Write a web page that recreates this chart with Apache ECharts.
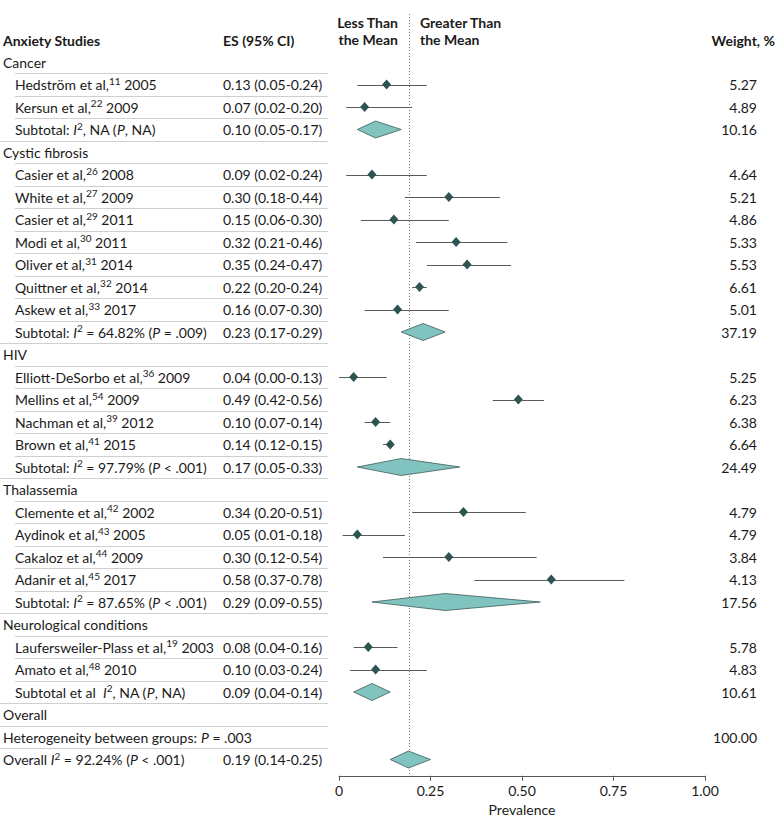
<!DOCTYPE html>
<html><head><meta charset="utf-8">
<script src="https://cdn.jsdelivr.net/npm/echarts@6/dist/echarts.min.js"></script>
<style>html,body{margin:0;padding:0;background:#fff}#c{width:780px;height:834px}</style>
</head><body><div id="c"></div>
<script>
// ---- data ----
const rowTypes = ['cat','study','study','sub','cat','study','study','study','study','study','study','study','sub',
  'cat','study','study','study','study','sub','cat','study','study','study','study','sub',
  'cat','study','study','sub','cat','cat','overall'];
const rowLabels = [
  'Cancer',
  'Hedström et al,{s|11} 2005',
  'Kersun et al,{s|22} 2009',
  'Subtotal: {i|I}{s|2}, NA ({i|P}, NA)',
  'Cystic fibrosis',
  'Casier et al,{s|26} 2008',
  'White et al,{s|27} 2009',
  'Casier et al,{s|29} 2011',
  'Modi et al,{s|30} 2011',
  'Oliver et al,{s|31} 2014',
  'Quittner et al,{s|32} 2014',
  'Askew et al,{s|33} 2017',
  'Subtotal: {i|I}{s|2} = 64.82% ({i|P} = .009)',
  'HIV',
  'Elliott-DeSorbo et al,{s|36} 2009',
  'Mellins et al,{s|54} 2009',
  'Nachman et al,{s|39} 2012',
  'Brown et al,{s|41} 2015',
  'Subtotal: {i|I}{s|2} = 97.79% ({i|P} < .001)',
  'Thalassemia',
  'Clemente et al,{s|42} 2002',
  'Aydinok et al,{s|43} 2005',
  'Cakaloz et al,{s|44} 2009',
  'Adanir et al,{s|45} 2017',
  'Subtotal: {i|I}{s|2} = 87.65% ({i|P} < .001)',
  'Neurological conditions',
  'Laufersweiler-Plass et al,{s|19} 2003',
  'Amato et al,{s|48} 2010',
  'Subtotal et al  {i|I}{s|2}, NA ({i|P}, NA)',
  'Overall',
  'Heterogeneity between groups: {i|P} = .003',
  'Overall {i|I}{s|2} = 92.24% ({i|P} < .001)'
];
const estimates = [null,0.13,0.07,0.10,null,0.09,0.30,0.15,0.32,0.35,0.22,0.16,0.23,null,0.04,0.49,0.10,0.14,0.17,null,0.34,0.05,0.30,0.58,0.29,null,0.08,0.10,0.09,null,null,0.19];
const lower =     [null,0.05,0.02,0.05,null,0.02,0.18,0.06,0.21,0.24,0.20,0.07,0.17,null,0.00,0.42,0.07,0.12,0.05,null,0.20,0.01,0.12,0.37,0.09,null,0.04,0.03,0.04,null,null,0.14];
const upper =     [null,0.24,0.20,0.17,null,0.24,0.44,0.30,0.46,0.47,0.24,0.30,0.29,null,0.13,0.56,0.14,0.15,0.33,null,0.51,0.18,0.54,0.78,0.55,null,0.16,0.24,0.14,null,null,0.25];
const weights =   [null,5.27,4.89,10.16,null,4.64,5.21,4.86,5.33,5.53,6.61,5.01,37.19,null,5.25,6.23,6.38,6.64,24.49,null,4.79,4.79,3.84,4.13,17.56,null,5.78,4.83,10.61,null,100.00,null];
const xTicks = [0, 0.25, 0.5, 0.75, 1];
const overallMean = 0.19;

// ---- styling ----
const FONT = 'Lato';
const TXT = '#1a1a1a';
const indented = rowTypes.map(t => t === 'study' || t === 'sub');
const rich = {
  i: {fontStyle: 'italic', fontFamily: FONT, fontSize: 14, color: TXT},
  s: {fontSize: 10, fontFamily: FONT, color: TXT, verticalAlign: 'top', lineHeight: 10}
};
const idx = rowLabels.map((_, i) => i);
function yAx(extra) {
  return Object.assign({
    type: 'category', data: idx, inverse: true,
    axisLine: {show: false}, axisTick: {show: false}, splitLine: {show: false}
  }, extra);
}
const labelBase = {interval: 0, fontFamily: FONT, fontSize: 14, color: TXT, lineHeight: 18, rich: rich};

const studyPts = [], ciData = [], subData = [];
rowTypes.forEach((t, i) => {
  if (t === 'study') { studyPts.push([estimates[i], i]); ciData.push([lower[i], upper[i], i]); }
  if (t === 'sub' || t === 'overall') subData.push([lower[i], estimates[i], upper[i], i]);
});
const sepData = [];
for (let i = 0; i < rowLabels.length - 1; i++) sepData.push([i, indented[i + 1] ? 1 : 0]);

const chart = echarts.init(document.getElementById('c'), null, {renderer: 'svg'});
chart.setOption({
  animation: false,
  backgroundColor: '#fff',
  textStyle: {fontFamily: FONT},
  grid: {left: 339, right: 75, top: 50.75, height: 720},
  xAxis: {
    type: 'value', min: 0, max: 1, interval: 0.25, offset: 5,
    axisLine: {show: true, lineStyle: {color: '#555', width: 1}},
    axisTick: {show: true, length: 5, lineStyle: {color: '#555'}},
    splitLine: {show: false},
    axisLabel: {fontFamily: FONT, fontSize: 14, color: TXT, margin: 8,
      formatter: v => v === 0 ? '0' : v.toFixed(2)},
    name: 'Prevalence', nameLocation: 'middle', nameGap: 26,
    nameTextStyle: {fontFamily: FONT, fontSize: 14, color: TXT}
  },
  yAxis: [
    yAx({position: 'left', axisLabel: Object.assign({}, labelBase, {align: 'left', margin: 336,
      formatter: (v, i) => indented[i] ? '' : rowLabels[i]})}),
    yAx({position: 'left', axisLabel: Object.assign({}, labelBase, {align: 'left', margin: 324,
      formatter: (v, i) => indented[i] ? rowLabels[i] : ''})}),
    yAx({position: 'left', axisLabel: Object.assign({}, labelBase, {align: 'left', margin: 116,
      formatter: (v, i) => estimates[i] == null ? '' :
        estimates[i].toFixed(2) + ' (' + lower[i].toFixed(2) + '-' + upper[i].toFixed(2) + ')'})}),
    yAx({position: 'right', axisLabel: Object.assign({}, labelBase, {align: 'right', margin: 52,
      formatter: (v, i) => weights[i] == null ? '' : weights[i].toFixed(2)})})
  ],
  graphic: [
    {type: 'text', x: 3, y: 40, style: {text: 'Anxiety Studies', font: 'bold 14px ' + FONT, fill: TXT, verticalAlign: 'middle'}},
    {type: 'text', x: 223, y: 40, style: {text: 'ES (95% CI)', font: 'bold 14px ' + FONT, fill: TXT, verticalAlign: 'middle'}},
    {type: 'text', x: 398, y: 30.5, style: {text: 'Less Than\nthe Mean', font: 'bold 14px ' + FONT, fill: TXT, align: 'right', verticalAlign: 'middle', lineHeight: 17}},
    {type: 'text', x: 420, y: 30.5, style: {text: 'Greater Than\nthe Mean', font: 'bold 14px ' + FONT, fill: TXT, align: 'left', verticalAlign: 'middle', lineHeight: 17}},
    {type: 'text', x: 775, y: 40, style: {text: 'Weight, %', font: 'bold 14px ' + FONT, fill: TXT, align: 'right', verticalAlign: 'middle'}}
  ],
  series: [
    { // row separators in the table
      type: 'custom', silent: true, clip: false, data: sepData,
      renderItem: (params, api) => {
        const c = api.coord([0, api.value(0)]);
        const h = api.size([0, 1])[1];
        const y = Math.round(c[1] + h / 2) + 0.5;
        return {type: 'line', shape: {x1: api.value(1) ? 15 : 0, y1: y, x2: 328, y2: y},
          style: {stroke: '#cfcfcf', lineWidth: 1}};
      }
    },
    { // dotted mean line
      type: 'custom', silent: true, clip: false, data: [[overallMean]], z: 1,
      renderItem: (params, api) => {
        const c = api.coord([api.value(0), rowLabels.length - 1]);
        const h = api.size([0, 1])[1];
        const x = Math.round(c[0]) + 0.5;
        return {type: 'line', shape: {x1: x, y1: 14, x2: x, y2: c[1] + h / 2 + 5},
          style: {stroke: '#777', lineWidth: 1, lineDash: [1, 2]}};
      }
    },
    { // CI whiskers
      type: 'custom', silent: true, data: ciData, z: 2,
      renderItem: (params, api) => {
        const a = api.coord([api.value(0), api.value(2)]);
        const b = api.coord([api.value(1), api.value(2)]);
        const y = Math.round(a[1]) + 0.5;
        return {type: 'line', shape: {x1: a[0], y1: y, x2: b[0], y2: y},
          style: {stroke: '#5a5a5a', lineWidth: 1}};
      }
    },
    { // study estimates
      type: 'scatter', data: studyPts, symbol: 'diamond', symbolSize: [9, 10], z: 3,
      itemStyle: {color: '#2c5451', opacity: 1}, silent: true
    },
    { // pooled diamonds
      type: 'custom', silent: true, data: subData, z: 3,
      renderItem: (params, api) => {
        const r = api.value(3);
        const l = api.coord([api.value(0), r]);
        const m = api.coord([api.value(1), r]);
        const u = api.coord([api.value(2), r]);
        const hh = 8.5;
        return {type: 'polygon', shape: {points: [[l[0], l[1]], [m[0], m[1] - hh], [u[0], u[1]], [m[0], m[1] + hh]]},
          style: {fill: '#80c3bf', stroke: '#3d5c5a', lineWidth: 0.8}};
      }
    }
  ]
});
</script></body></html>
